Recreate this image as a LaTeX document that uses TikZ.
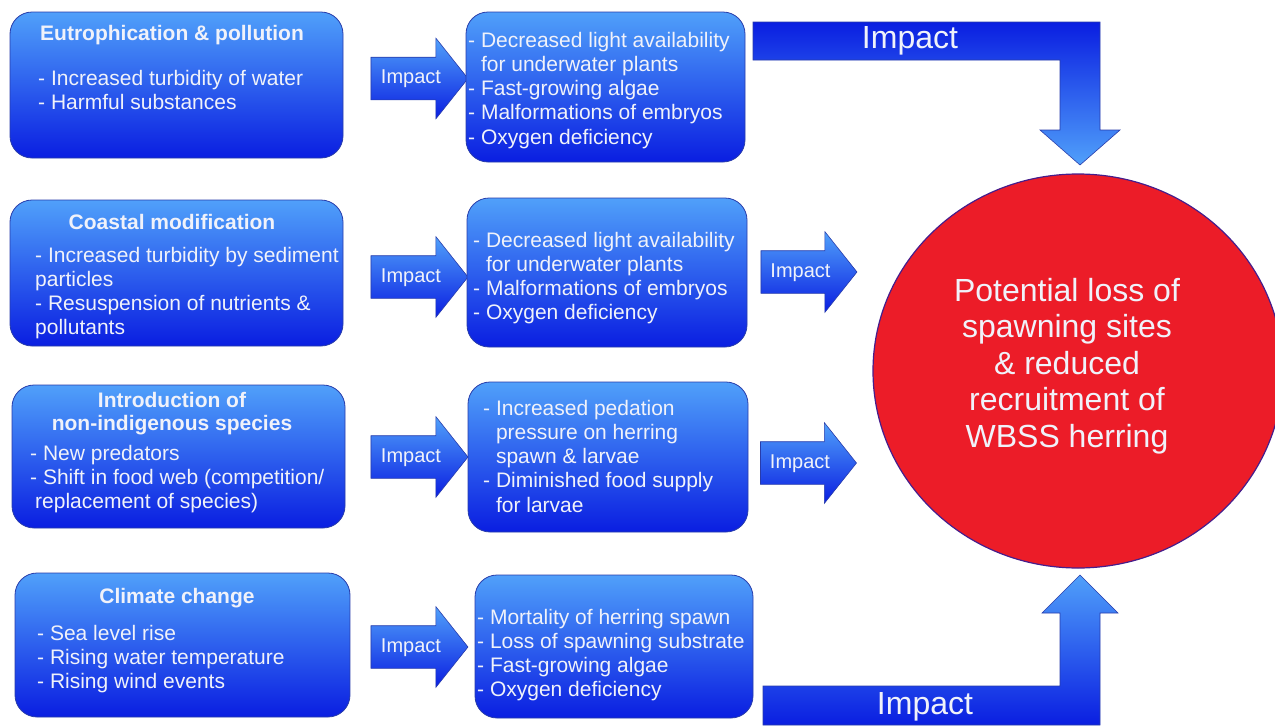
\documentclass[tikz,border=0pt]{standalone}
\usepackage{fontspec}
\setmainfont{Liberation Sans}
\usetikzlibrary{shapes.geometric, shapes.arrows, positioning, calc}
\definecolor{boxtop}{RGB}{80,160,250}
\definecolor{boxbot}{RGB}{10,30,225}
\definecolor{boxline}{RGB}{40,60,170}
\definecolor{lossred}{RGB}{236,28,40}
\definecolor{lossline}{RGB}{70,30,140}
\definecolor{paletext}{RGB}{240,242,250}

\tikzset{
  causebox/.style={draw=boxline, line width=0.8pt, rounded corners=22pt,
    top color=boxtop, bottom color=boxbot, inner sep=0pt},
  headtxt/.style={text=paletext, font=\bfseries\fontsize{21}{23}\selectfont,
    align=center, anchor=base, inner sep=0pt},
  bodytxt/.style={text=paletext, font=\fontsize{21}{24.3}\selectfont,
    align=left, anchor=base west, inner sep=0pt},
  impactarrow/.style={single arrow, draw=boxline, line width=0.6pt,
    top color=boxtop, bottom color=boxbot, text=paletext,
    font=\fontsize{20}{24}\selectfont, minimum height=97pt,
    single arrow head extend=19pt, single arrow tip angle=103,
    single arrow head indent=0pt, text height=14pt, text depth=4pt,
    inner ysep=12pt, inner xsep=2pt},
  bigarrow/.style={draw=boxline, line width=0.6pt},
  bigtxt/.style={text=paletext, font=\fontsize{32}{36}\selectfont, anchor=base},
}

\begin{document}
\begin{tikzpicture}[x=1pt, y=-1pt]
    \useasboundingbox (0,0) rectangle (1275,726);

    % --- Causes (left); text nodes sit on the baseline of their last line ---
    \node[causebox, minimum width=333pt, minimum height=146pt] (eutro) at (176.5,85) {};
    \node[headtxt] (eutrohead) at (172,40) {Eutrophication \& pollution};
    \node[bodytxt] (eutrotxt) at (38,109.3) {- Increased turbidity of water\\- Harmful substances};

    \node[causebox, minimum width=333pt, minimum height=146pt] (coast) at (176.5,273) {};
    \node[headtxt] (coasthead) at (172,229) {Coastal modification};
    \node[bodytxt] (coasttxt) at (35,334.9) {- Increased turbidity by sediment\\particles\\- Resuspension of nutrients \&\\pollutants};

    \node[causebox, minimum width=333pt, minimum height=143pt] (intro) at (178.5,456.5) {};
    \node[headtxt] (introhead) at (172,430) {Introduction of\\non-indigenous species};
    \node[bodytxt] (introtxt) at (30,508.6) {- New predators\\- Shift in food web (competition/\\\hspace*{5pt}replacement of species)};

    \node[causebox, minimum width=335pt, minimum height=144pt] (climate) at (182.5,645) {};
    \node[headtxt] (climatehead) at (177,603) {Climate change};
    \node[bodytxt] (climatetxt) at (37,688.6) {- Sea level rise\\- Rising water temperature\\- Rising wind events};

    % --- Fleches Impact ---
    \node[impactarrow] (imp1) at (411,78.5) {Impact};
    \node[impactarrow] (imp2) at (411,277) {Impact};
    \node[impactarrow] (imp3) at (411,457) {Impact};
    \node[impactarrow] (imp4) at (411,647) {Impact};

    % --- Effects (middle) ---
    \node[causebox, minimum width=279pt, minimum height=150pt] (eff1) at (605.5,87) {};
    \node[bodytxt] (eff1txt) at (468,144.2) {- Decreased light availability\\\phantom{-} for underwater plants\\- Fast-growing algae\\- Malformations of embryos\\- Oxygen deficiency};

    \node[causebox, minimum width=280pt, minimum height=149pt] (eff2) at (607,272.5) {};
    \node[bodytxt] (eff2txt) at (473,319.9) {- Decreased light availability\\\phantom{-} for underwater plants\\- Malformations of embryos\\- Oxygen deficiency};

    \node[causebox, minimum width=280pt, minimum height=150pt] (eff3) at (608,457) {};
    \node[bodytxt] (eff3txt) at (483,512.2) {- Increased pedation\\\phantom{-} pressure on herring\\\phantom{-} spawn \& larvae\\- Diminished food supply\\\phantom{-} for larvae};

    \node[causebox, minimum width=278pt, minimum height=143pt] (eff4) at (614,646.5) {};
    \node[bodytxt] (eff4txt) at (477,696.9) {- Mortality of herring spawn\\- Loss of spawning substrate\\- Fast-growing algae\\- Oxygen deficiency};

    \node[impactarrow, minimum height=96pt] (imp6) at (800.5,272) {Impact};
    \node[impactarrow, minimum height=96pt] (imp7) at (800,463) {Impact};

    % --- Cercle rouge ---
    \node[ellipse, draw=lossline, line width=1.2pt, fill=lossred,
          minimum width=410pt, minimum height=394pt] (loss) at (1078,371) {};
    \node[text=paletext, font=\fontsize{32}{36.5}\selectfont, align=center] (losstxt)
        at (1067,366) {Potential loss of\\spawning sites\\\& reduced\\recruitment of\\WBSS herring};

    % --- Grandes fleches coudees ---
    \shade[bigarrow, top color=boxbot, bottom color=boxtop]
        (753,22) -- (1100,22) -- (1100,130) -- (1120,130) -- (1080,165)
        -- (1040,130) -- (1060,130) -- (1060,60) -- (753,60) -- cycle;
    \node[bigtxt] (topimp) at (910,48) {Impact};

    \shade[bigarrow, top color=boxtop, bottom color=boxbot]
        (763,686) -- (1060,686) -- (1060,613) -- (1042,613) -- (1080,575)
        -- (1118,613) -- (1100,613) -- (1100,725) -- (763,725) -- cycle;
    \node[bigtxt] (botimp) at (925,714) {Impact};
\end{tikzpicture}
\end{document}
